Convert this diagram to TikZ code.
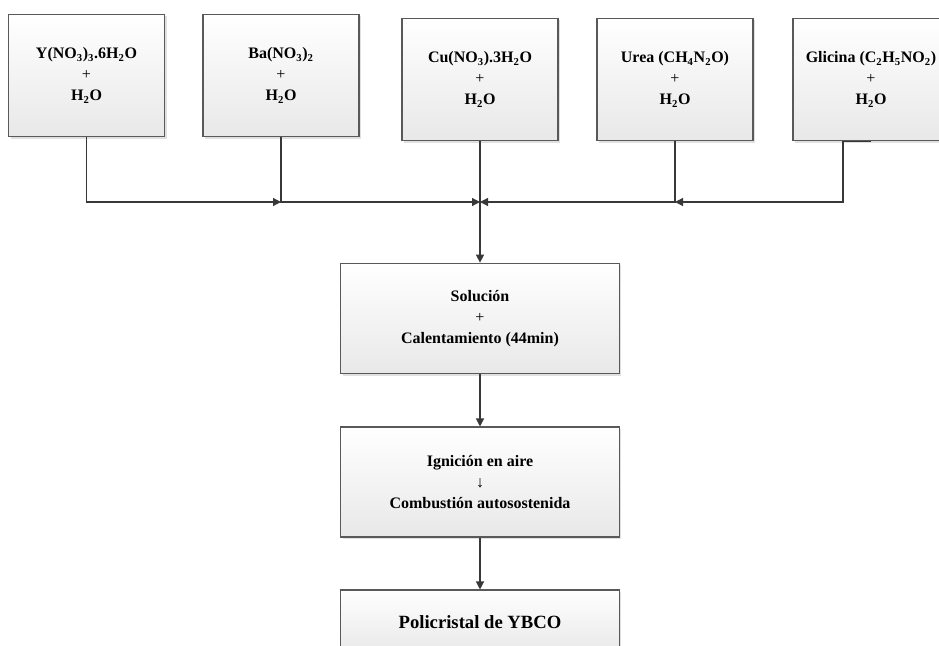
\documentclass[tikz,border=0pt]{standalone}
\usepackage{fontspec}
\setmainfont{Liberation Serif}
\usepackage{tikz}
\usetikzlibrary{arrows.meta,shadows}

\begin{document}
\begin{tikzpicture}[x=0.75pt,y=-0.75pt,>={Triangle[length=6pt,width=6pt]},
  box/.style={draw=black!65,line width=0.8pt,top color=white,bottom color=black!9,
    drop shadow={shadow xshift=1.6pt,shadow yshift=-1.6pt,fill=black!12,opacity=1},
    align=center,font=\fontsize{12}{15.75}\selectfont\bfseries},
  link/.style={draw=black!78,line width=0.9pt}]
\useasboundingbox (0,0) rectangle (939,646);
% reactivos
\node[box,minimum width=117pt,minimum height=92pt] (yn) at (86.5,75.5) {Y(NO\textsubscript{3})\textsubscript{3}.6H\textsubscript{2}O\\{\mdseries +}\\H\textsubscript{2}O};
\node[box,minimum width=117pt,minimum height=92pt] (ba) at (281,75.5) {Ba(NO\textsubscript{3})\textsubscript{2}\\{\mdseries +}\\H\textsubscript{2}O};
\node[box,minimum width=117pt,minimum height=92pt] (cu) at (480,79.5) {Cu(NO\textsubscript{3}).3H\textsubscript{2}O\\{\mdseries +}\\H\textsubscript{2}O};
\node[box,minimum width=117pt,minimum height=92pt] (urea) at (675,79.5) {Urea (CH\textsubscript{4}N\textsubscript{2}O)\\{\mdseries +}\\H\textsubscript{2}O};
\node[box,minimum width=117pt,minimum height=92pt] (gli) at (871,79.5) {Glicina (C\textsubscript{2}H\textsubscript{5}NO\textsubscript{2})\\{\mdseries +}\\H\textsubscript{2}O};
% proceso
\node[box,minimum width=209pt,minimum height=83pt] (sol) at (480,318.5) {Soluci\'on\\{\mdseries +}\\Calentamiento (44min)};
\node[box,minimum width=209pt,minimum height=82.5pt] (ign) at (480,482) {Ignici\'on en aire\\{\mdseries ↓}\\Combusti\'on autosostenida};
\node[box,minimum width=209pt,minimum height=48pt,font=\fontsize{14}{17}\selectfont\bfseries] (ybco) at (480,622) {Policristal de YBCO};
% conexiones
\coordinate (bus) at (0,202);
\coordinate (m) at (cu.south |- bus);
\draw[link,->] (yn.south) |- (ba.south |- bus);
\draw[link,->] (ba.south) |- (m);
\draw[link] (cu.south) -- (m);
\draw[link,->] (urea.south) |- (m);
\draw[link,->] (gli.south) -- ++(-28,0) |- (urea.south |- bus);
\draw[link,->] (m) -- (sol.north);
\draw[link,->] (sol) -- (ign);
\draw[link,->] (ign) -- (ybco);
\end{tikzpicture}
\end{document}
